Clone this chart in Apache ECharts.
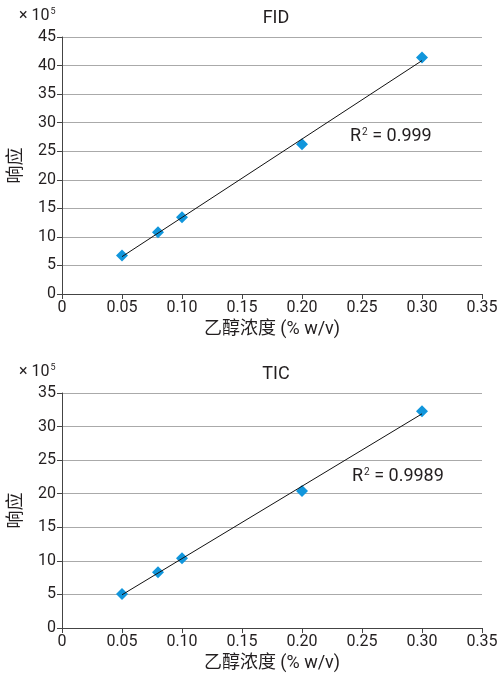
<!DOCTYPE html>
<html>
<head>
<meta charset="utf-8">
<script src="https://cdn.jsdelivr.net/npm/echarts@6/dist/echarts.min.js"></script>
<style>
  html, body { margin: 0; padding: 0; background: #fff; }
  #chart { width: 501px; height: 677px; }
</style>
</head>
<body>
<div id="chart"></div>
<script>
// 数据
const concentration = [0.05, 0.08, 0.10, 0.20, 0.30]
const fidResponse = [6.74, 10.8, 13.45, 26.2, 41.4]
const ticResponse = [5.07, 8.3, 10.4, 20.4, 32.3]
const xTicks = [0, 0.05, 0.10, 0.15, 0.20, 0.25, 0.30, 0.35]
const fidR2 = '0.999'
const ticR2 = '0.9989'

const FONT = '"Liberation Sans Narrow", "Roboto", "Noto Sans CJK SC", sans-serif'
const TEXT = '#231f20'
const BLUE = '#1196dc'

// 最小二乘拟合
const fit = (xs, ys) => {
    const n = xs.length
    const mx = xs.reduce((a, b) => a + b, 0) / n
    const my = ys.reduce((a, b) => a + b, 0) / n
    let sxy = 0, sxx = 0
    xs.forEach((x, i) => { sxy += (x - mx) * (ys[i] - my); sxx += (x - mx) * (x - mx) })
    const k = sxy / sxx
    const b = my - k * mx
    const x0 = xs[0], x1 = xs[n - 1]
    return [[x0, k * x0 + b], [x1, k * x1 + b]]
}

const xAxisOf = (gridIndex) => ({
    type: 'value', gridIndex, min: 0, max: 0.35, interval: 0.05,
    name: '乙醇浓度 (% w/v)', nameLocation: 'middle', nameGap: 27,
    nameTextStyle: { fontFamily: FONT, fontSize: 18, color: TEXT },
    axisLine: { lineStyle: { color: '#444', width: 1 } },
    axisTick: { show: true, length: 5, lineStyle: { color: '#444' } },
    axisLabel: {
        fontFamily: FONT, fontSize: 16, color: TEXT, margin: 6,
        formatter: (v) => {
            const t = xTicks.find(x => Math.abs(x - v) < 1e-9)
            return t === 0 ? '0' : (t !== undefined ? t.toFixed(2) : '')
        }
    },
    splitLine: { show: false }
})

const yAxisOf = (gridIndex, max) => ({
    type: 'value', gridIndex, min: 0, max, interval: 5,
    name: '响应', nameLocation: 'middle', nameGap: 36, nameRotate: 90,
    nameTextStyle: { fontFamily: FONT, fontSize: 18, color: TEXT },
    axisLine: { show: true, lineStyle: { color: '#444', width: 1 } },
    axisTick: { show: true, length: 5, lineStyle: { color: '#444' } },
    axisLabel: { fontFamily: FONT, fontSize: 16, color: TEXT, margin: 6 },
    splitLine: { show: true, lineStyle: { color: '#aaa', width: 1 } }
})

const scatterOf = (idx, ys) => ({
    type: 'scatter', xAxisIndex: idx, yAxisIndex: idx,
    symbol: 'diamond', symbolSize: 12, z: 3,
    itemStyle: { color: BLUE, opacity: 1 },
    data: concentration.map((x, i) => [x, ys[i]])
})

const lineOf = (idx, ys) => ({
    type: 'line', xAxisIndex: idx, yAxisIndex: idx,
    symbol: 'none', z: 4,
    lineStyle: { color: '#111', width: 1 },
    data: fit(concentration, ys)
})

const r2Text = (left, top, val) => ({
    type: 'text', left, top,
    style: {
        text: '{b|R}{s|2}{b| = ' + val + '}',
        rich: {
            b: { fontFamily: FONT, fontSize: 18, fill: TEXT },
            s: { fontFamily: FONT, fontSize: 10, fill: TEXT, verticalAlign: 'top', padding: [0, 0, 8, 1] }
        }
    }
})

const scaleText = (left, top) => ({
    type: 'text', left, top,
    style: {
        text: '{b|× 10}{s|5}',
        rich: {
            b: { fontFamily: FONT, fontSize: 16, fill: TEXT },
            s: { fontFamily: FONT, fontSize: 9, fill: TEXT, padding: [0, 0, 8, 1] }
        }
    }
})

const option = {
    animation: false,
    backgroundColor: '#fff',
    title: [
        { text: 'FID', left: 271, top: 5, textAlign: 'center',
          textStyle: { fontFamily: FONT, fontSize: 18, fontWeight: 'normal', color: TEXT } },
        { text: 'TIC', left: 271, top: 361, textAlign: 'center',
          textStyle: { fontFamily: FONT, fontSize: 18, fontWeight: 'normal', color: TEXT } }
    ],
    grid: [
        { left: 60, right: 19, top: 37, height: 257 },
        { left: 60, right: 19, top: 393, height: 235 }
    ],
    xAxis: [xAxisOf(0), xAxisOf(1)],
    yAxis: [yAxisOf(0, 45), yAxisOf(1, 35)],
    series: [
        lineOf(0, fidResponse), scatterOf(0, fidResponse),
        lineOf(1, ticResponse), scatterOf(1, ticResponse)
    ],
    graphic: [
        scaleText(19, 7),
        scaleText(19, 363),
        r2Text(350, 127, fidR2),
        r2Text(352, 467, ticR2)
    ]
}

const chart = echarts.init(document.getElementById('chart'), null, { renderer: 'canvas' })
chart.setOption(option)
</script>
</body>
</html>
